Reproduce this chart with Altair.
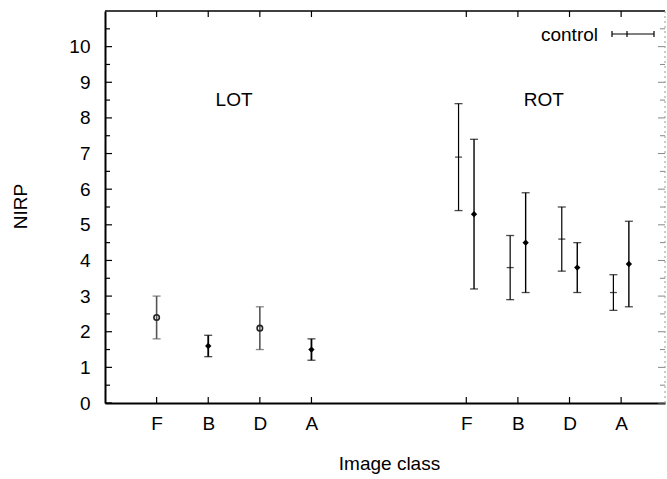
import altair as alt
import pandas as pd

# ---------------- data ----------------
classes = ["F", "B", "D", "A"]
groups = ["LOT", "ROT"]

lot_mean = [2.4, 1.6, 2.1, 1.5]
lot_low = [1.8, 1.3, 1.5, 1.2]
lot_high = [3.0, 1.9, 2.7, 1.8]

rot_control_mean = [6.9, 3.8, 4.6, 3.1]
rot_control_low = [5.4, 2.9, 3.7, 2.6]
rot_control_high = [8.4, 4.7, 5.5, 3.6]

rot_mean = [5.3, 4.5, 3.8, 3.9]
rot_low = [3.2, 3.1, 3.1, 2.7]
rot_high = [7.4, 5.9, 4.5, 5.1]

lot_pos = [1, 2, 3, 4]
rot_pos = [7, 8, 9, 10]
y_major = list(range(0, 11))
y_minor = [v + 0.5 for v in range(0, 11)]

# ---------------- layout ----------------
W, H = 560, 392
FONT = "Liberation Sans"
FS = 19
OFF = 0.15

rows = []
for i, c in enumerate(classes):
    rows.append(dict(cls=c, x=lot_pos[i], mean=lot_mean[i], lo=lot_low[i], hi=lot_high[i],
                     style="lot_gray" if c in ("F", "D") else "lot_black"))
    rows.append(dict(cls=c, x=rot_pos[i] - OFF, mean=rot_control_mean[i], lo=rot_control_low[i],
                     hi=rot_control_high[i], style="control"))
    rows.append(dict(cls=c, x=rot_pos[i] + OFF, mean=rot_mean[i], lo=rot_low[i], hi=rot_high[i],
                     style="rot"))
df = pd.DataFrame(rows)

styles = ["control", "rot", "lot_gray", "lot_black"]
color_scale = alt.Scale(domain=styles, range=["#000000", "#000000", "#555555", "#000000"])
width_scale = alt.Scale(domain=styles, range=[1.2, 1.8, 1.4, 1.8])

xscale = alt.Scale(domain=[0, 10.85], nice=False, zero=False)
yscale = alt.Scale(domain=[0, 11], nice=False, zero=False)

label_arr = [""] * 11
for i, c in enumerate(classes):
    label_arr[lot_pos[i]] = c
    label_arr[rot_pos[i]] = c
label_expr = "[" + ",".join("'%s'" % s for s in label_arr) + "][datum.value]"

x_axis = alt.Axis(values=lot_pos + rot_pos, labelExpr=label_expr, ticks=False, tickSize=0,
                  labelPadding=11, labelFont=FONT, labelFontSize=FS, labelColor="black",
                  grid=False, domainColor="black", domainWidth=2,
                  title="Image class", titleFont=FONT, titleFontSize=FS, titleFontWeight="normal",
                  titleColor="black", titleX=284, titleY=60, titleBaseline="middle")
y_axis = alt.Axis(values=y_major, ticks=False, tickSize=0, labelPadding=15, labelFont=FONT,
                  labelFontSize=FS, labelColor="black", grid=False, domainColor="black",
                  domainWidth=2, title="NIRP", titleFont=FONT, titleFontSize=FS,
                  titleFontWeight="normal", titleColor="black", titleX=-85, titleY=195,
                  titleBaseline="middle", titleAngle=270)


def X(field):
    return alt.X(field, scale=xscale, axis=x_axis)


def Y(field):
    return alt.Y(field, scale=yscale, axis=y_axis)


base = alt.Chart(df)

bars = base.mark_rule().encode(
    x=X("x:Q"), y=Y("lo:Q"), y2="hi:Q",
    color=alt.Color("style:N", scale=color_scale, legend=None),
    strokeWidth=alt.StrokeWidth("style:N", scale=width_scale, legend=None),
)

cap_lo = base.mark_tick(orient="horizontal", size=8, thickness=1.3).encode(
    x=X("x:Q"), y=Y("lo:Q"),
    color=alt.Color("style:N", scale=color_scale, legend=None),
)
cap_hi = base.mark_tick(orient="horizontal", size=8, thickness=1.3).encode(
    x=X("x:Q"), y=Y("hi:Q"),
    color=alt.Color("style:N", scale=color_scale, legend=None),
)

ctrl_mean = base.transform_filter(alt.datum.style == "control").mark_tick(
    orient="horizontal", size=7, thickness=1.3, color="black").encode(
    x=X("x:Q"), y=Y("mean:Q"),
)
filled_pts = base.transform_filter(
    (alt.datum.style == "rot") | (alt.datum.style == "lot_black")).mark_point(
    shape="diamond", filled=True, size=40, color="black", opacity=1).encode(
    x=X("x:Q"), y=Y("mean:Q"),
)
open_pts = base.transform_filter(alt.datum.style == "lot_gray").mark_point(
    shape="circle", filled=False, size=30, color="#222222", strokeWidth=1.6, opacity=1).encode(
    x=X("x:Q"), y=Y("mean:Q"),
)

gdf = pd.DataFrame({
    "g": groups,
    "x": [sum(lot_pos) / len(lot_pos), sum(rot_pos) / len(rot_pos)],
    "y": [8.5, 8.5],
})
group_text = alt.Chart(gdf).mark_text(font=FONT, fontSize=FS, color="black").encode(
    x=X("x:Q"), y=Y("y:Q"), text="g:N",
)

# inward axis ticks
ymaj = pd.DataFrame({"v": y_major})
ymin = pd.DataFrame({"v": y_minor})
xt = pd.DataFrame({"v": lot_pos + rot_pos})
tick_layers = []
for d, ln in [(ymaj, 7), (ymin, 5)]:
    tick_layers.append(alt.Chart(d).mark_rule(color="black", strokeWidth=1.2).encode(
        y=Y("v:Q"), x=alt.value(0), x2=alt.value(ln)))
    tick_layers.append(alt.Chart(d).mark_rule(color="#888888", strokeWidth=1).encode(
        y=Y("v:Q"), x=alt.value(W - ln), x2=alt.value(W)))
tick_layers.append(alt.Chart(xt).mark_rule(color="black", strokeWidth=1.2).encode(
    x=X("v:Q"), y=alt.value(H), y2=alt.value(H - 6)))
tick_layers.append(alt.Chart(xt).mark_rule(color="black", strokeWidth=1.2).encode(
    x=X("v:Q"), y=alt.value(0), y2=alt.value(6)))

one = pd.DataFrame({"k": [0]})
top_border = alt.Chart(one).mark_rule(color="black", strokeWidth=1.5).encode(
    x=alt.value(0), x2=alt.value(W), y=alt.value(0))
right_border = alt.Chart(one).mark_rule(color="#999999", strokeWidth=1, strokeDash=[2, 3]).encode(
    x=alt.value(W), y=alt.value(0), y2=alt.value(H))

# legend
leg_text = alt.Chart(pd.DataFrame({"t": ["control"]})).mark_text(
    font=FONT, fontSize=FS, color="black", align="right", baseline="middle").encode(
    x=alt.value(493), y=alt.value(24), text="t:N")
leg_line = alt.Chart(one).mark_rule(color="black", strokeWidth=1.2).encode(
    x=alt.value(507), x2=alt.value(549), y=alt.value(23))
leg_caps = [
    alt.Chart(one).mark_rule(color="black", strokeWidth=1.2).encode(
        x=alt.value(px), y=alt.value(20), y2=alt.value(26))
    for px in (507, 522, 549)
]

chart = alt.layer(
    bars, cap_lo, cap_hi, ctrl_mean, filled_pts, open_pts, group_text,
    *tick_layers, top_border, right_border, leg_text, leg_line, *leg_caps,
).properties(
    width=W, height=H,
    autosize=alt.AutoSizeParams(type="none"),
    padding={"left": 105, "top": 11, "right": 2, "bottom": 76},
    background="white",
).configure_view(stroke=None)

chart.save("out.html", embed_options={"renderer": "svg", "actions": False})
